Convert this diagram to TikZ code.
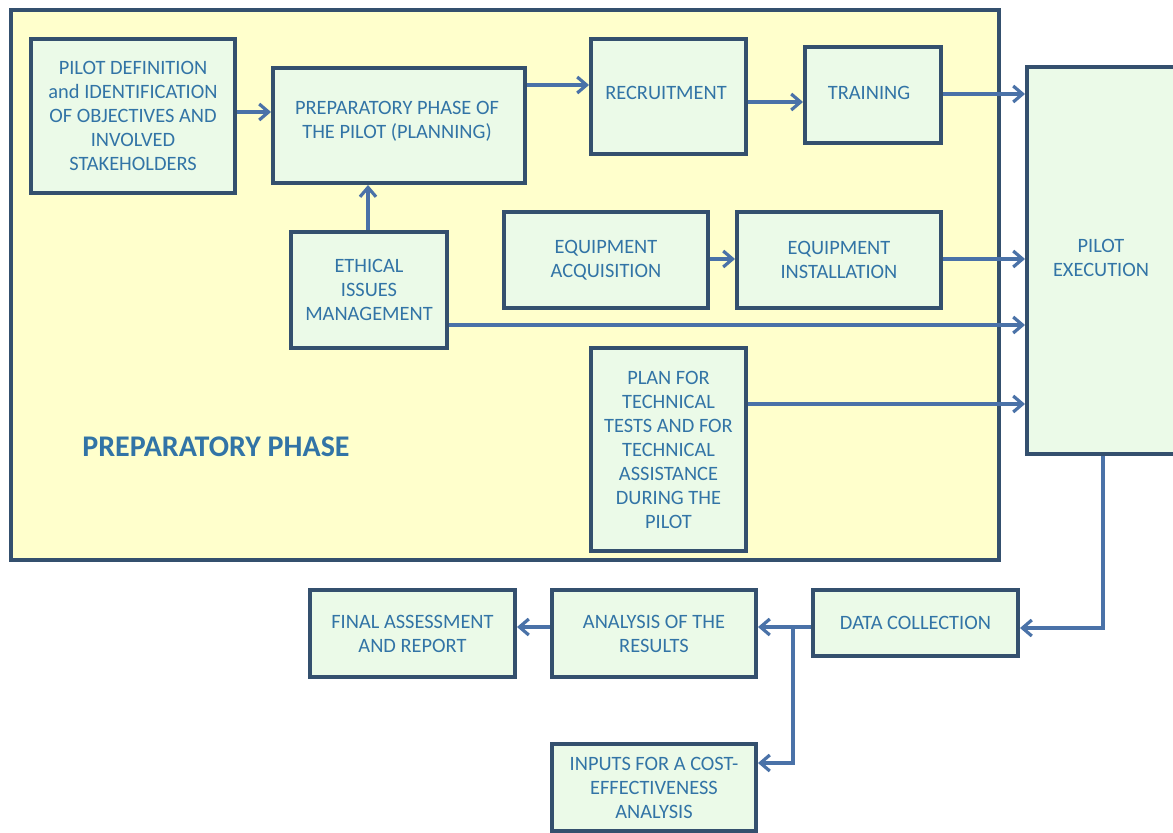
\documentclass[tikz,border=0pt]{standalone}
\usepackage{fontspec}
\setmainfont{Carlito}
\usetikzlibrary{arrows.meta}
\definecolor{frame}{HTML}{34506E}
\definecolor{linec}{HTML}{4A72A8}
\definecolor{boxfill}{HTML}{EBFAE8}
\definecolor{yel}{HTML}{FFFFCC}
\definecolor{txt}{HTML}{3274A6}
\begin{document}
\begin{tikzpicture}[x=0.75pt,y=-0.75pt,
  boxfont/.style={font=\fontsize{15.3}{18}\selectfont},
  box/.style={draw=frame,line width=3pt,fill=boxfill,text=txt,align=center,boxfont,inner sep=0pt},
  conn/.style={draw=linec,line width=2.5pt,-{Straight Barb[length=7pt,width=12pt,line width=2.4pt]}},
  seg/.style={draw=linec,line width=2.5pt}]
\useasboundingbox (0,0) rectangle (1173,832);
\begin{scope}
\clip (0,0) rectangle (1173,832);
\fill[white] (0,0) rectangle (1173,832);
\node[draw=frame,line width=3pt,fill=yel,minimum width=988pt*0.75,minimum height=550pt*0.75,anchor=north west,inner sep=0pt] (prep) at (9,8) {};
\node[text=txt,font=\fontsize{22.5}{24}\selectfont\bfseries] (preplabel) at (216,447) {PREPARATORY PHASE};

\newcommand{\bx}[6]{\node[box,minimum width=#4*0.75pt,minimum height=#5*0.75pt,anchor=north west] (#1) at (#2,#3) {#6};}
\bx{def}{29}{37}{204}{154}{PILOT DEFINITION\\and IDENTIFICATION\\OF OBJECTIVES AND\\INVOLVED\\STAKEHOLDERS}
\node[box,minimum width=252*0.75pt,minimum height=115*0.75pt,anchor=north west] (plan) at (271,66) {};
\node[text=txt,boxfont,align=center,anchor=north] (plantext) at (397,97) {PREPARATORY PHASE OF\\THE PILOT (PLANNING)};
\node[box,minimum width=155*0.75pt,minimum height=115*0.75pt,anchor=north west] (recr) at (589,37) {};
\node[text=txt,boxfont,anchor=north] (recrtext) at (666,82) {RECRUITMENT};
\node[box,minimum width=136*0.75pt,minimum height=96*0.75pt,anchor=north west] (train) at (803,45) {};
\node[text=txt,boxfont,anchor=north] (traintext) at (869,82) {TRAINING};
\bx{eth}{289}{230}{156}{116}{ETHICAL\\ISSUES\\MANAGEMENT}
\bx{eqa}{502}{210}{204}{96}{EQUIPMENT\\ACQUISITION}
\bx{eqi}{735}{210}{204}{96}{EQUIPMENT\\INSTALLATION}
\bx{tech}{589}{346}{155}{203}{PLAN FOR\\TECHNICAL\\TESTS AND FOR\\TECHNICAL\\ASSISTANCE\\DURING THE\\PILOT}
\node[box,minimum width=160*0.75pt,minimum height=387*0.75pt,anchor=north west] (exec) at (1025,65) {};
\node[text=txt,boxfont,align=center] (exectext) at (1101,258) {PILOT\\EXECUTION};
\bx{data}{811}{588}{205}{66}{DATA COLLECTION}
\bx{anal}{550}{588}{204}{87}{ANALYSIS OF THE\\RESULTS}
\bx{final}{308}{588}{205}{87}{FINAL ASSESSMENT\\AND REPORT}
\bx{inp}{550}{742}{204}{87}{INPUTS FOR A COST-\\EFFECTIVENESS\\ANALYSIS}

\coordinate (c1) at (1103,628);
\coordinate (br) at (793,627);
\coordinate (br2) at (793,763);

\draw[conn] (def.east |- 0,112) -- (plan.west |- 0,112);
\draw[conn] (plan.east |- 0,85) -- (recr.west |- 0,85);
\draw[conn] (recr.east |- 0,102) -- (train.west |- 0,102);
\draw[conn] (train.east |- 0,94) -- (exec.west |- 0,94);
\draw[conn] (eth.north -| 368,0) -- (plan.south -| 368,0);
\draw[conn] (eqa.east |- 0,259) -- (eqi.west |- 0,259);
\draw[conn] (eqi.east |- 0,259) -- (exec.west |- 0,259);
\draw[conn] (eth.east |- 0,325) -- (exec.west |- 0,325);
\draw[conn] (tech.east |- 0,404) -- (exec.west |- 0,404);
\draw[conn] (exec.south -| c1) -- (c1) -- (data.east |- c1);
\draw[conn] (data.west |- br) -- (anal.east |- br);
\draw[conn] (br) -- (br2) -- (inp.east |- br2);
\draw[conn] (anal.west |- br) -- (final.east |- br);
\end{scope}
\end{tikzpicture}
\end{document}
